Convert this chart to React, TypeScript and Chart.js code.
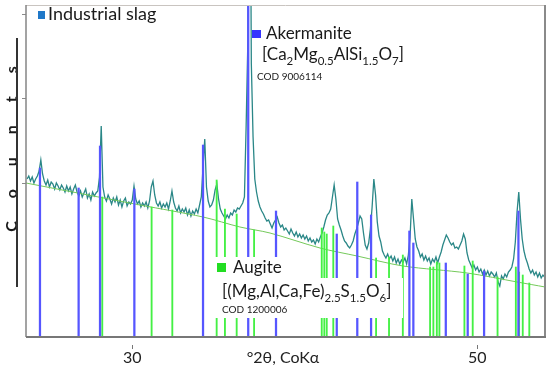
import React, { useEffect, useRef } from "react";
import { Chart, registerables } from "chart.js";

Chart.register(...registerables);

// ---- Data ----
// x axis: °2θ (CoKα); y axis: counts (arbitrary units)
const xMin = 23.84;
const xMax = 53.92;
const yMin = 0;
const yMax = 332;
const xTicks = [30, 50];
const yTicks = [154, 239, 323];

// Measured pattern, sampled every 0.1° from 23.9° to 53.9°
const patternStart = 23.9;
const patternStep = 0.1;
const patternCounts = [
  158, 161,
  156, 160, 154, 158, 161, 166, 177, 163, 156,
  152, 157, 150, 155, 153, 148, 154, 151, 147, 152,
  149, 145, 151, 146, 150, 143, 148, 152, 145, 141,
  146, 140, 144, 148, 139, 143, 137, 145, 141, 144,
  146, 160, 211, 150, 140, 136, 142, 138, 133, 139,
  135, 140, 132, 137, 130, 136, 139, 131, 135, 133,
  137, 151, 138, 133, 136, 130, 134, 131, 135, 129,
  136, 150, 156, 142, 134, 131, 135, 129, 133, 130,
  134, 128, 136, 146, 135, 129, 126, 131, 124, 128,
  125, 129, 122, 127, 121, 126, 123, 128, 124, 132,
  140, 170, 198, 150, 136, 130, 132, 137, 147, 153,
  138, 128, 124, 121, 118, 122, 119, 124, 122, 127,
  125, 129, 128, 131, 134, 140, 212, 297, 600, 273,
  200, 158, 145, 136, 130, 126, 123, 119, 116, 117,
  113, 109, 114, 117, 120, 114, 110, 112, 107, 109,
  106, 103, 108, 104, 101, 105, 100, 103, 99, 102,
  98, 101, 96, 99, 95, 97, 93, 98, 95, 100,
  104, 110, 117, 122, 124, 128, 140, 152, 138, 118,
  112, 107, 101, 96, 94, 91, 89, 92, 96, 103,
  108, 114, 121, 118, 104, 92, 88, 94, 108, 130,
  158, 142, 115, 101, 95, 86, 82, 79, 83, 78,
  81, 76, 80, 74, 78, 73, 77, 75, 79, 73,
  82, 100, 138, 118, 98, 90, 86, 80, 83, 77,
  81, 76, 79, 73, 78, 75, 80, 74, 80, 85,
  92, 97, 102, 99, 95, 92, 94, 89, 90, 88,
  92, 96, 103, 98, 84, 77, 73, 69, 72, 67,
  70, 65, 68, 63, 67, 62, 66, 61, 65, 63,
  60, 64, 55, 51, 61, 58, 63, 60, 65, 67,
  70, 78, 95, 125, 145, 118, 98, 86, 79, 74,
  68, 64, 67, 62, 65, 60, 64, 59, 62, 60,
];

// Fitted background curve
const backgroundAngles = [23.84, 30.45, 34.1, 36.24, 37.98, 40.88, 43.03, 45.69, 49.41, 52.31, 53.93];
const backgroundCounts = [154, 132, 120, 110, 104, 89, 81, 71, 64, 55, 50];

// Akermanite reference lines (COD 9006114)
const akermaniteAngles = [24.65, 26.89, 28.13, 30.12, 34.1, 36.72, 38.33, 41.85, 43.04, 43.84, 46.06, 46.29, 48.17, 49.44, 50.39, 52.38];
const akermaniteCounts = [169, 149, 191, 148, 192, 400, 126, 103, 155, 122, 106, 94, 74, 63, 66, 126];

// Augite reference lines (COD 1200006)
const augiteAngles = [28.26, 31.12, 32.32, 34.89, 35.37, 36.05, 37.06, 40.98, 41.13, 41.27, 41.65, 44.13, 44.88, 45.68, 47.26, 47.45, 47.65, 47.8, 49.25, 49.73, 51.17, 52.23, 52.42, 52.63, 53.01];
const augiteCounts = [140, 130, 127, 157, 128, 123, 107, 109, 105, 103, 111, 79, 80, 82, 70, 70, 75, 74, 71, 76, 60, 70, 65, 62, 54];

const FONT = "Lato, 'Open Sans', sans-serif";

const framePlugin = {
  id: "frame",
  afterDraw(chart: any) {
    const { ctx, chartArea } = chart;
    const { left, right, top, bottom } = chartArea;
    ctx.save();
    ctx.lineCap = "butt";
    ctx.strokeStyle = "#c9c4c0";
    ctx.lineWidth = 1;
    ctx.beginPath();
    ctx.moveTo(left, top + 0.5);
    ctx.lineTo(right, top + 0.5);
    ctx.stroke();
    ctx.strokeStyle = "#858585";
    ctx.lineWidth = 1.5;
    ctx.beginPath();
    ctx.moveTo(left, top);
    ctx.lineTo(left, bottom);
    ctx.stroke();
    ctx.strokeStyle = "#8a8a8a";
    ctx.lineWidth = 2;
    ctx.beginPath();
    ctx.moveTo(right, top);
    ctx.lineTo(right, bottom + 1);
    ctx.stroke();
    ctx.strokeStyle = "#777777";
    ctx.lineWidth = 2;
    ctx.beginPath();
    ctx.moveTo(left, bottom);
    ctx.lineTo(right + 1, bottom);
    ctx.stroke();
    const xs = chart.scales.x;
    ctx.strokeStyle = "#777777";
    ctx.lineWidth = 1;
    for (const v of xTicks) {
      const px = Math.round(xs.getPixelForValue(v)) + 0.5;
      ctx.beginPath();
      ctx.moveTo(px, bottom + 8);
      ctx.lineTo(px, bottom + 12);
      ctx.stroke();
    }
    ctx.restore();
  },
};

function ChartCanvas() {
  const ref = useRef<HTMLCanvasElement | null>(null);
  useEffect(() => {
    if (!ref.current) return;
    const pattern = patternCounts.map((c, i) => ({
      x: +(patternStart + i * patternStep).toFixed(2),
      y: c,
    }));
    const background = backgroundAngles.map((a, i) => ({ x: a, y: backgroundCounts[i] }));
    const akermanite = akermaniteAngles.map((a, i) => ({ x: a, y: akermaniteCounts[i] }));
    const augite = augiteAngles.map((a, i) => ({ x: a, y: augiteCounts[i] }));

    const chart = new Chart(ref.current, {
      type: "line",
      data: {
        datasets: [
          {
            type: "bar",
            label: "Akermanite",
            data: akermanite,
            backgroundColor: "#5656ff",
            barThickness: 1.6,
            grouped: false,
            order: 0,
          } as any,
          {
            type: "bar",
            label: "Augite",
            data: augite,
            backgroundColor: "#44f044",
            barThickness: 1.2,
            grouped: false,
            order: 1,
          } as any,
          {
            type: "line",
            label: "Background",
            data: background,
            borderColor: "#74c95a",
            borderWidth: 1,
            pointRadius: 0,
            tension: 0.3,
            order: 2,
          },
          {
            type: "line",
            label: "Industrial slag",
            data: pattern,
            borderColor: "#2a8787",
            borderWidth: 1.3,
            pointRadius: 0,
            order: 3,
          },
        ],
      },
      options: {
        animation: false,
        responsive: false,
        maintainAspectRatio: false,
        layout: { padding: { top: 5, right: 5, left: 0, bottom: 0 } },
        plugins: { legend: { display: false }, tooltip: { enabled: false } },
        scales: {
          x: {
            type: "linear",
            min: xMin,
            max: xMax,
            offset: false,
            afterBuildTicks: (s: any) => {
              s.ticks = xTicks.map((v) => ({ value: v }));
            },
            afterFit: (s: any) => {
              s.height = 32;
            },
            grid: { display: false, drawTicks: false },
            border: { display: false },
            ticks: {
              font: { family: FONT, size: 16 },
              color: "#222",
              padding: 11,
              maxRotation: 0,
              autoSkip: false,
            },
          },
          y: {
            type: "linear",
            min: yMin,
            max: yMax,
            afterBuildTicks: (s: any) => {
              s.ticks = yTicks.map((v) => ({ value: v }));
            },
            afterFit: (s: any) => {
              s.width = 26;
            },
            grid: { display: true, drawOnChartArea: false, drawTicks: true, tickLength: 4, color: "#8a8a8a" },
            border: { display: false },
            ticks: { display: false },
          },
        },
      },
      plugins: [framePlugin],
    });
    return () => chart.destroy();
  }, []);
  return <canvas ref={ref} width={550} height={369} style={{ position: "absolute", left: 0, top: 0 }} />;
}

const abs = (s: React.CSSProperties): React.CSSProperties => ({ position: "absolute", whiteSpace: "nowrap", ...s });
const subStyle: React.CSSProperties = { fontSize: "11.5px", verticalAlign: "-5px", lineHeight: 0 };

export default function App() {
  return (
    <div style={{ position: "absolute", left: 0, top: 0, width: 550, height: 369, background: "#fff", fontFamily: FONT, color: "#1a1a1a", overflow: "hidden" }}>
      <ChartCanvas />
      {/* y-axis title */}
      <div
        style={abs({
          left: 11,
          top: 149,
          transform: "translate(-50%, -50%) rotate(-90deg)",
          fontSize: 16,
          fontWeight: 700,
          letterSpacing: "23px",
          paddingLeft: 23,
          lineHeight: "16px",
        })}
      >
        Counts
      </div>
      <div style={abs({ left: 16, top: 38, width: 2, height: 249, background: "#333" })} />

      {/* Industrial slag legend */}
      <div style={abs({ left: 38, top: 11, width: 7, height: 8, background: "#1f78c8" })} />
      <div style={abs({ left: 48, top: 4, fontSize: 18, lineHeight: "18px" })}>Industrial slag</div>

      {/* Akermanite label */}
      <div style={abs({ left: 252, top: 30, width: 9, height: 8, background: "#3535ff" })} />
      <div style={abs({ left: 266, top: 24, fontSize: 17, lineHeight: "17px" })}>Akermanite</div>
      <div style={abs({ left: 262, top: 45, fontSize: 17, lineHeight: "17px" })}>
        [Ca<span style={subStyle}>2</span>Mg<span style={subStyle}>0.5</span>AlSi<span style={subStyle}>1.5</span>O
        <span style={subStyle}>7</span>]
      </div>
      <div style={abs({ left: 257, top: 70.5, fontSize: 10, lineHeight: "10px" })}>COD 9006114</div>

      {/* Augite label */}
      <div style={abs({ left: 213, top: 257, width: 75, height: 22, background: "#fff" })} />
      <div style={abs({ left: 213, top: 278, width: 190, height: 40, background: "#fff" })} />
      <div style={abs({ left: 217, top: 263, width: 9, height: 9, background: "#22dd22" })} />
      <div style={abs({ left: 233, top: 258, fontSize: 17, lineHeight: "17px" })}>Augite</div>
      <div style={abs({ left: 222, top: 281.6, fontSize: 17, lineHeight: "17px" })}>
        [(Mg,Al,Ca,Fe)<span style={subStyle}>2.5</span>S<span style={subStyle}>1.5</span>O
        <span style={subStyle}>6</span>]
      </div>
      <div style={abs({ left: 222, top: 304.4, fontSize: 10, lineHeight: "10px" })}>COD 1200006</div>

      {/* x-axis title */}
      <div style={abs({ left: 283, top: 349, transform: "translateX(-50%)", fontSize: 16, lineHeight: "16px", color: "#222" })}>
        °2θ, CoKα
      </div>
    </div>
  );
}
